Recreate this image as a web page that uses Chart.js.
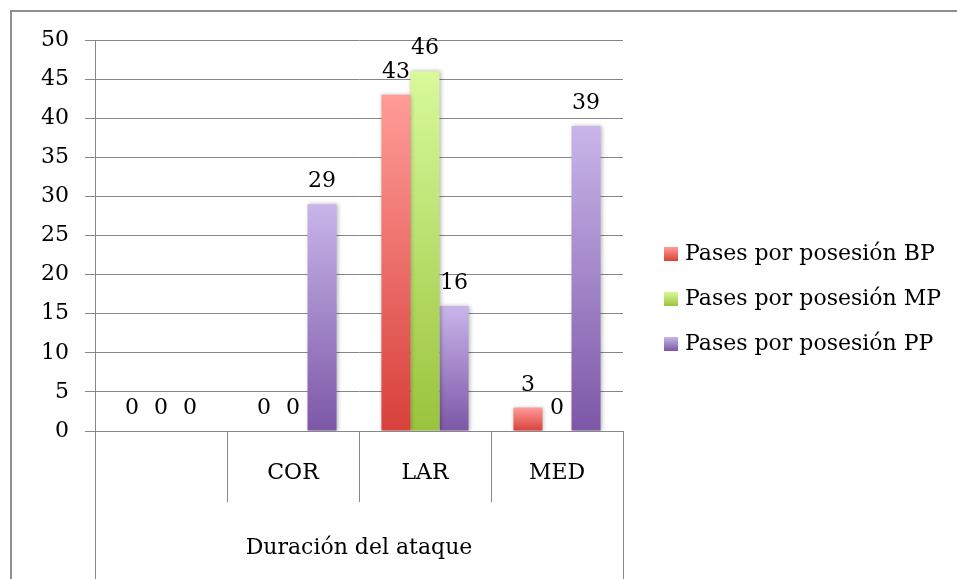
<!DOCTYPE html>
<html><head><meta charset="utf-8">
<script src="https://cdn.jsdelivr.net/npm/chart.js@4/dist/chart.umd.min.js"></script>
<style>html,body{margin:0;padding:0;background:#fff}#wrap{position:relative;width:957px;height:579px}</style>
</head><body><div id="wrap"><canvas id="c" width="957" height="579"></canvas></div>
<script>
const categories = ['', 'COR', 'LAR', 'MED'];
const groupLabel = 'Duración del ataque';
const seriesNames = ['Pases por posesión BP', 'Pases por posesión MP', 'Pases por posesión PP'];
const valuesBP = [0, 0, 43, 3];
const valuesMP = [0, 0, 46, 0];
const valuesPP = [0, 29, 16, 39];
const yMin = 0, yMax = 50, yStep = 5;

const FONT = "'DejaVu Serif', serif";
const colTop = ['#ff9c98', '#d9f99b', '#c9b5ea'];
const colBot = ['#d8403a', '#9ac33d', '#7c57a7'];
const GRID = '#878787';

function grad(i) {
  return function (ctx) {
    const chart = ctx.chart;
    if (!chart.chartArea || ctx.type !== 'data') return colBot[i];
    const ys = chart.scales.y;
    const y0 = ys.getPixelForValue(0), y1 = ys.getPixelForValue(ctx.raw);
    if (Math.abs(y0 - y1) < 1) return colBot[i];
    const g = chart.ctx.createLinearGradient(0, y1, 0, y0);
    g.addColorStop(0, colTop[i]);
    g.addColorStop(1, colBot[i]);
    return g;
  };
}

const shadow = {
  id: 'shadow',
  beforeDatasetsDraw(chart) {
    const c = chart.ctx;
    c.save();
    c.shadowColor = 'rgba(0,0,0,0.28)';
    c.shadowBlur = 4;
    c.shadowOffsetX = 1;
    c.shadowOffsetY = 0;
  },
  afterDatasetsDraw(chart) { chart.ctx.restore(); }
};

const deco = {
  id: 'deco',
  afterDraw(chart) {
    const c = chart.ctx, a = chart.chartArea, xs = chart.scales.x;
    c.save();
    // outer frame
    c.strokeStyle = '#8e8e8e'; c.lineWidth = 2;
    c.beginPath(); c.moveTo(11, 700); c.lineTo(11, 11); c.lineTo(1000, 11); c.stroke();
    // category dividers
    c.strokeStyle = GRID; c.lineWidth = 1;
    const n = categories.length;
    const w = (a.right - a.left) / n;
    for (let k = 0; k <= n; k++) {
      const x = Math.round(a.left + k * w) + 0.5;
      const yEnd = (k === 0 || k === n) ? 600 : a.bottom + 71;
      c.beginPath(); c.moveTo(x, a.bottom); c.lineTo(x, yEnd); c.stroke();
    }
    // category labels
    c.fillStyle = '#000'; c.textAlign = 'center'; c.textBaseline = 'middle';
    c.font = '22px ' + FONT;
    categories.forEach((lab, k) => {
      c.fillText(lab, xs.getPixelForValue(k), a.bottom + 42);
    });
    c.fillText(groupLabel, (a.left + a.right) / 2, a.bottom + 117);
    // data labels
    c.textBaseline = 'alphabetic';
    chart.data.datasets.forEach((ds, di) => {
      const meta = chart.getDatasetMeta(di);
      meta.data.forEach((el, j) => {
        c.fillText(String(ds.data[j]), el.x, el.y - 17);
      });
    });
    // legend
    c.textAlign = 'left'; c.textBaseline = 'middle';
    c.font = '22px ' + FONT;
    chart.data.datasets.forEach((ds, di) => {
      const cy = 254 + di * 45;
      const g = c.createLinearGradient(0, cy - 7, 0, cy + 7);
      g.addColorStop(0, colTop[di]); g.addColorStop(1, colBot[di]);
      c.fillStyle = g;
      c.fillRect(664, cy - 7, 14, 14);
      c.fillStyle = '#000';
      c.fillText(ds.label, 685, cy);
    });
    c.restore();
  }
};

new Chart(document.getElementById('c'), {
  type: 'bar',
  data: {
    labels: categories,
    datasets: [
      { label: seriesNames[0], data: valuesBP, backgroundColor: grad(0) },
      { label: seriesNames[1], data: valuesMP, backgroundColor: grad(1) },
      { label: seriesNames[2], data: valuesPP, backgroundColor: grad(2) }
    ]
  },
  options: {
    responsive: false,
    animation: false,
    devicePixelRatio: 1,
    layout: { padding: { top: 40, right: 334, left: 0, bottom: 0 } },
    datasets: { bar: { categoryPercentage: 0.66, barPercentage: 1 } },
    plugins: { legend: { display: false }, tooltip: { enabled: false } },
    scales: {
      x: {
        grid: { display: false },
        border: { display: false },
        ticks: { display: false },
        afterFit(s) { s.height = 148; }
      },
      y: {
        min: yMin, max: yMax,
        ticks: { stepSize: yStep, padding: 16, color: '#000', font: { family: FONT, size: 22 } },
        grid: { color: GRID, tickLength: 10, drawTicks: true },
        border: { display: true, color: GRID },
        afterFit(s) { s.width = 95; }
      }
    }
  },
  plugins: [shadow, deco]
});
</script>
</body></html>
